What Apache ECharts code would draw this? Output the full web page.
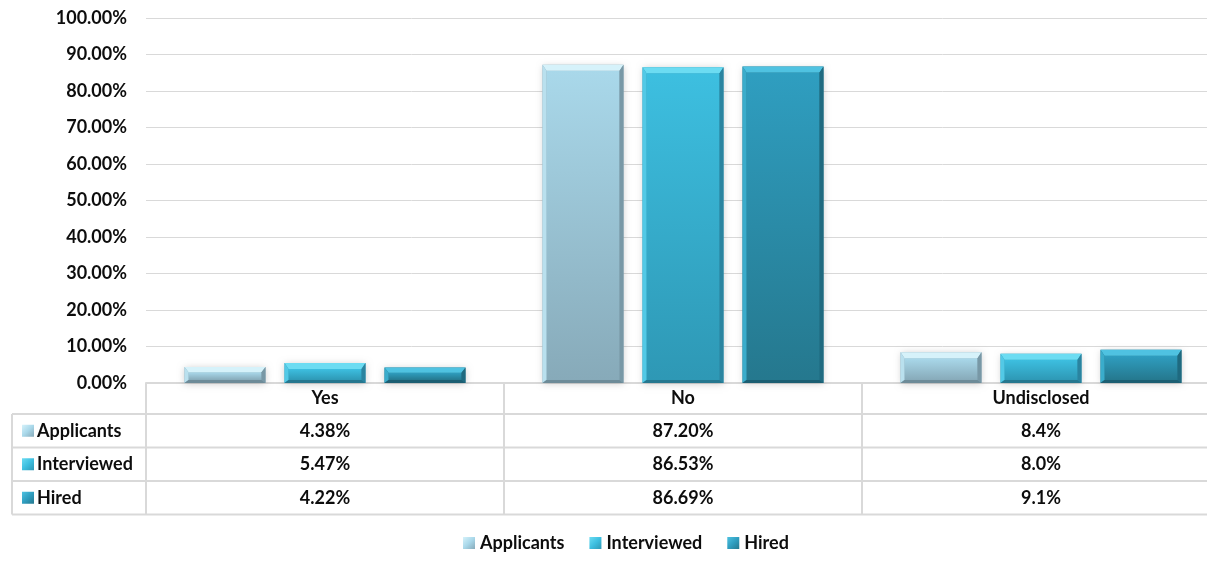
<!DOCTYPE html>
<html>
<head>
<meta charset="utf-8">
<script src="https://cdn.jsdelivr.net/npm/echarts@6/dist/echarts.min.js"></script>
<style>
  html, body { margin: 0; padding: 0; background: #ffffff; }
  #chart { width: 1207px; height: 561px; }
</style>
</head>
<body>
<div id="chart"></div>
<script>
// ---- data ----
const categories = ['Yes', 'No', 'Undisclosed'];
const seriesNames = ['Applicants', 'Interviewed', 'Hired'];
const applicants = [4.38, 87.20, 8.4];
const interviewed = [5.47, 86.53, 8.0];
const hired = [4.22, 86.69, 9.1];
// decimals shown in the data table, per category column
const tableDecimals = [2, 2, 1];
// value axis ticks (percent)
const yMin = 0;
const yMax = 100;
const yStep = 10;

// ---- styling ----
const FONT = 'Lato';
const TEXT_COLOR = '#0d0d0d';
const LINE_COLOR = '#d9d9d9';
const palettes = [
  { bevelTop: '#d6f2fa', faceTop: '#a9d8ea', faceBottom: '#87aab9', sideLight: '#b9e0ee', sideDark: '#7898a6', bevelBottom: '#6d8b98' },
  { bevelTop: '#6cdcf2', faceTop: '#3dbfe0', faceBottom: '#2e98b5', sideLight: '#52c9e6', sideDark: '#2a84a0', bevelBottom: '#25778f' },
  { bevelTop: '#4fc2e1', faceTop: '#2f9ec0', faceBottom: '#25788e', sideLight: '#3aaccb', sideDark: '#1f6a80', bevelBottom: '#1b5e72' }
];
const seriesValues = [applicants, interviewed, hired];

function faceGradient(p) {
  return new echarts.graphic.LinearGradient(0, 0, 0, 1, [
    { offset: 0, color: p.faceTop },
    { offset: 1, color: p.faceBottom }
  ]);
}
function iconGradient(p) {
  return new echarts.graphic.LinearGradient(0, 0, 1, 1, [
    { offset: 0, color: p.bevelTop },
    { offset: 0.5, color: p.faceTop },
    { offset: 1, color: p.faceBottom }
  ]);
}

// bar width and spacing as fractions of one category band
const BAR_RATIO = 81 / 358;
const STEP_RATIO = 100 / 358;

function bevelBar(params, api) {
  const p = palettes[params.seriesIndex];
  const cat = api.value(0);
  const val = api.value(1);
  const base = api.coord([cat, 0]);
  const top = api.coord([cat, val]);
  const band = api.size([1, 0])[0];
  const bw = band * BAR_RATIO;
  const cx = base[0] + (params.seriesIndex - 1) * band * STEP_RATIO;
  const x0 = cx - bw / 2, x1 = cx + bw / 2;
  const y0 = top[1], y1 = base[1];
  const h = y1 - y0;
  const bt = Math.min(6, h / 3);   // top bevel depth
  const bs = Math.min(4, bw / 6);  // side bevel depth
  const bb = Math.min(3, h / 4);   // bottom bevel depth
  return {
    type: 'group',
    children: [
      { type: 'rect', shape: { x: x0, y: y0, width: bw, height: h },
        style: { fill: p.faceBottom, shadowBlur: 7, shadowColor: 'rgba(0,0,0,0.2)', shadowOffsetY: 1 } },
      { type: 'rect', shape: { x: x0 + bs, y: y0 + bt, width: bw - 2 * bs, height: Math.max(0, h - bt - bb) },
        style: { fill: faceGradient(p) } },
      { type: 'polygon', shape: { points: [[x0, y0], [x1, y0], [x1 - bs, y0 + bt], [x0 + bs, y0 + bt]] },
        style: { fill: p.bevelTop } },
      { type: 'polygon', shape: { points: [[x0, y0], [x0 + bs, y0 + bt], [x0 + bs, y1 - bb], [x0, y1]] },
        style: { fill: p.sideLight } },
      { type: 'polygon', shape: { points: [[x1, y0], [x1 - bs, y0 + bt], [x1 - bs, y1 - bb], [x1, y1]] },
        style: { fill: p.sideDark } },
      { type: 'polygon', shape: { points: [[x0, y1], [x0 + bs, y1 - bb], [x1 - bs, y1 - bb], [x1, y1]] },
        style: { fill: p.bevelBottom } }
    ]
  };
}

// plot area runs a little past the right edge of the canvas
const GRID = { left: 146, width: 1074, top: 18, bottom: 178, outerBoundsMode: 'none', containLabel: false };

const chart = echarts.init(document.getElementById('chart'), null, { renderer: 'canvas' });

const option = {
  animation: false,
  backgroundColor: '#ffffff',
  grid: GRID,
  legend: {
    bottom: 4,
    left: 458,
    itemWidth: 12,
    itemHeight: 12,
    itemGap: 25,
    icon: 'rect',
    data: seriesNames.map((n, i) => ({ name: n, itemStyle: { color: iconGradient(palettes[i]) } })),
    textStyle: { fontFamily: FONT, fontWeight: 'bold', fontSize: 18, color: TEXT_COLOR }
  },
  xAxis: {
    type: 'category',
    data: categories,
    axisLine: { show: true, lineStyle: { color: LINE_COLOR, width: 2 } },
    axisTick: { show: false },
    axisLabel: { margin: 6, fontFamily: FONT, fontWeight: 'bold', fontSize: 18, color: TEXT_COLOR },
    splitLine: { show: false }
  },
  yAxis: {
    type: 'value',
    min: yMin,
    max: yMax,
    interval: yStep,
    axisLine: { show: false },
    axisTick: { show: false },
    axisLabel: {
      margin: 19,
      fontFamily: FONT, fontWeight: 'bold', fontSize: 18, color: TEXT_COLOR,
      formatter: v => v.toFixed(2) + '%'
    },
    splitLine: { lineStyle: { color: LINE_COLOR, width: 1 } }
  },
  series: seriesNames.map((name, i) => ({
    name: name,
    type: 'custom',
    renderItem: bevelBar,
    itemStyle: { color: iconGradient(palettes[i]) },
    encode: { x: 0, y: 1 },
    data: seriesValues[i].map((v, c) => [c, v]),
    clip: false
  }))
};
chart.setOption(option);

// ---- data table under the plot ----
function buildTable() {
  const plotLeft = chart.convertToPixel({ xAxisIndex: 0 }, categories[0]);
  const plotRightCenter = chart.convertToPixel({ xAxisIndex: 0 }, categories[categories.length - 1]);
  const band = (plotRightCenter - plotLeft) / (categories.length - 1);
  const left = plotLeft - band / 2;
  const right = left + band * categories.length;
  const axisY = chart.convertToPixel({ yAxisIndex: 0 }, 0);
  const keyLeft = 12;
  const headerH = 31;
  const rowH = 33.5;
  const rowTops = seriesNames.map((_, r) => axisY + headerH + r * rowH);
  const tableBottom = axisY + headerH + seriesNames.length * rowH;
  const els = [];
  const line = (x1, y1, x2, y2) => els.push({
    type: 'line', shape: { x1, y1, x2, y2 },
    style: { stroke: LINE_COLOR, lineWidth: 2 }, silent: true
  });

  // horizontal rules
  rowTops.forEach(y => line(keyLeft, y, right, y));
  line(keyLeft, tableBottom, right, tableBottom);
  // vertical rules
  line(keyLeft, rowTops[0], keyLeft, tableBottom);
  for (let c = 0; c <= categories.length; c++) {
    const x = left + c * band;
    line(x, axisY, x, tableBottom);
  }

  seriesNames.forEach((name, r) => {
    const cy = rowTops[r] + rowH / 2;
    els.push({
      type: 'rect', shape: { x: 22, y: cy - 6, width: 12, height: 12 },
      style: { fill: iconGradient(palettes[r]) }, silent: true
    });
    els.push({
      type: 'text', x: 37, y: cy,
      style: { text: name, fontFamily: FONT, fontWeight: 'bold', fontSize: 18, fill: TEXT_COLOR,
               align: 'left', verticalAlign: 'middle' }, silent: true
    });
    categories.forEach((cat, c) => {
      const cx = chart.convertToPixel({ xAxisIndex: 0 }, cat);
      els.push({
        type: 'text', x: cx, y: cy,
        style: { text: seriesValues[r][c].toFixed(tableDecimals[c]) + '%',
                 fontFamily: FONT, fontWeight: 'bold', fontSize: 18, fill: TEXT_COLOR,
                 align: 'center', verticalAlign: 'middle' }, silent: true
      });
    });
  });
  chart.setOption({ graphic: { elements: els } });
}
buildTable();
</script>
</body>
</html>
